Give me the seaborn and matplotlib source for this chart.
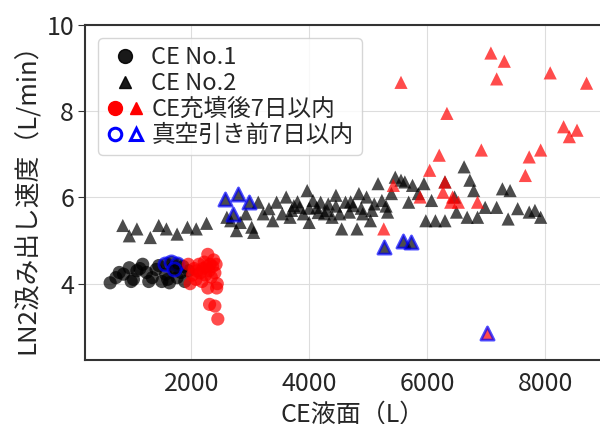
import numpy as np
import pandas as pd
import matplotlib.pyplot as plt
from matplotlib.lines import Line2D
from matplotlib.legend_handler import HandlerTuple
import seaborn as sns

sns.set_style('whitegrid')
plt.rcParams['font.family'] = ['Noto Sans CJK JP', 'DejaVu Sans']

# CE No.1 (circles)
ce1_x = [626, 723, 852, 950, 982, 1079, 1177, 1241, 1339, 1404, 1501, 1566,
         1630, 1695, 1760, 1825, 1890, 1955, 780, 1020, 1130, 1280, 1450, 1600, 1860]
ce1_y = [4.02, 4.14, 4.22, 4.37, 4.05, 4.30, 4.45, 4.26, 4.14, 4.33, 4.05, 4.22,
         4.02, 4.37, 4.14, 4.26, 4.05, 4.30, 4.26, 4.10, 4.35, 4.05, 4.42, 4.10, 4.40]

# CE No.1 filled within 7 days (red circles)
ce1_fill_x = [1950, 1980, 2020, 2050, 2080, 2100, 2130, 2150, 2180, 2200, 2220, 2240,
              2260, 2280, 2300, 2320, 2340, 2360, 2380, 2400, 2420, 2440, 2310, 2400,
              2450, 2280, 2430]
ce1_fill_y = [4.45, 4.00, 4.20, 4.35, 4.10, 4.30, 4.45, 4.25, 4.05, 4.35, 4.50, 4.20,
              4.40, 4.68, 4.30, 4.45, 4.15, 4.40, 4.55, 4.25, 4.45, 4.00, 3.52, 3.48,
              3.18, 3.90, 3.90]

# CE No.1 within 7 days before evacuation (blue edge)
ce1_vac_x = [1550, 1650, 1750, 1700]
ce1_vac_y = [4.45, 4.50, 4.45, 4.35]

# CE No.2 (triangles)
ce2_x = [840, 950, 1079, 1306, 1449, 1579, 1760, 1935, 2084, 2259,
         2603, 2668, 2765, 2830, 2927, 3024, 3057, 3135, 3219, 3316,
         3381, 3446, 3543, 3608, 3673, 3738, 3835, 3900, 3964, 3997,
         4062, 4127, 4192, 4256, 4321, 4386, 4451, 4516, 4548, 4613,
         4678, 4743, 4808, 4840, 4905, 4970, 5035, 5100, 5164, 5229,
         5326, 5391, 5456, 5553, 5618, 5683, 5748, 5845, 5942, 5974,
         6071, 6136, 6298, 6298, 6460, 6493, 6622, 6674, 6720, 6785,
         6850, 6979, 7174, 7271, 7401, 7368, 7530, 7725, 7822, 7919,
         3700, 3800, 4000, 4150, 4300, 4450, 4700, 4880, 5060, 5300]
ce2_y = [5.35, 5.11, 5.27, 5.07, 5.35, 5.27, 5.15, 5.31, 5.27, 5.40,
         5.54, 5.46, 5.23, 5.42, 5.62, 5.31, 5.19, 5.89, 5.62, 5.74,
         5.46, 5.89, 5.62, 6.01, 5.54, 5.81, 5.77, 5.62, 6.16, 5.42,
         5.93, 5.77, 5.89, 5.62, 5.85, 5.54, 6.05, 5.62, 5.27, 5.89,
         5.66, 5.81, 5.27, 6.09, 5.62, 6.01, 5.46, 5.85, 6.32, 5.93,
         5.66, 6.09, 6.47, 6.40, 6.36, 5.89, 6.28, 6.09, 6.32, 5.46,
         5.93, 5.46, 6.36, 5.46, 6.01, 5.66, 6.71, 5.54, 6.40, 6.16,
         5.54, 5.77, 5.77, 6.20, 6.16, 5.50, 5.74, 5.66, 5.70, 5.54,
         5.70, 5.90, 5.75, 5.65, 5.70, 5.80, 5.90, 5.75, 5.70, 5.80]

# CE No.2 filled within 7 days (red triangles)
ce2_fill_x = [5553, 7076, 7303, 7174, 8081, 8697, 6331, 6914, 8308, 8405,
              8535, 7725, 7919, 6201, 7660, 6039, 5423, 6298, 6266, 5877,
              6395, 6525, 6850, 5261, 6428]
ce2_fill_y = [8.67, 9.35, 9.16, 8.75, 8.89, 8.65, 7.95, 7.10, 7.64, 7.41,
              7.56, 6.94, 7.10, 6.98, 6.51, 6.63, 6.28, 6.36, 6.12, 6.01,
              5.89, 5.89, 5.89, 5.27, 6.01]

# CE No.2 within 7 days before evacuation (blue edge)
ce2_vac_x = [2570, 2700, 2797, 2979, 5261, 5585, 5728]
ce2_vac_y = [5.97, 5.62, 6.09, 5.89, 4.84, 5.00, 4.96]
ce2_vac_fill_x = [7012]
ce2_vac_fill_y = [2.86]

fig = plt.figure(figsize=(6, 4.24), dpi=100)
ax = fig.add_axes([0.142, 0.151, 0.892, 0.790])

kw = dict(ax=ax, s=90, alpha=0.7, legend=False)
sns.scatterplot(x=ce1_x, y=ce1_y, marker='o', color='black', edgecolor='none', **kw)
sns.scatterplot(x=ce2_x, y=ce2_y, marker='^', color='black', edgecolor='none', **kw)
sns.scatterplot(x=ce1_vac_x, y=ce1_vac_y, marker='o', color='black', edgecolor='blue', linewidth=2, **kw)
sns.scatterplot(x=ce2_vac_x, y=ce2_vac_y, marker='^', color='black', edgecolor='blue', linewidth=2, **kw)
sns.scatterplot(x=ce1_fill_x, y=ce1_fill_y, marker='o', color='red', edgecolor='none', **kw)
sns.scatterplot(x=ce2_fill_x, y=ce2_fill_y, marker='^', color='red', edgecolor='none', **kw)
sns.scatterplot(x=ce2_vac_fill_x, y=ce2_vac_fill_y, marker='^', color='red', edgecolor='blue', linewidth=2, **kw)

ax.set_xlim(203, 9270)
ax.set_ylim(2.23, 10)
ax.set_xticks([2000, 4000, 6000, 8000])
ax.set_yticks([4, 6, 8, 10])
ax.tick_params(labelsize=18, left=True, length=5, color='#333333', pad=3)
for sp in ax.spines.values():
    sp.set_color('#333333')
    sp.set_linewidth(1.5)
ax.grid(color='#dddddd')
ax.set_xlabel('CE液面（L）', fontsize=18, labelpad=3)
ax.set_ylabel('LN2汲み出し速度（L/min）', fontsize=18.5, labelpad=4)

h1 = Line2D([], [], marker='o', ls='', color='black', markersize=10, alpha=0.9)
h2 = Line2D([], [], marker='^', ls='', color='black', markersize=8, alpha=0.9)
h3a = Line2D([], [], marker='o', ls='', color='red', markersize=10)
h3b = Line2D([], [], marker='^', ls='', color='red', markersize=9)
h4a = Line2D([], [], marker='o', ls='', markerfacecolor='none', markeredgecolor='blue', markeredgewidth=2.2, markersize=9)
h4b = Line2D([], [], marker='^', ls='', markerfacecolor='none', markeredgecolor='blue', markeredgewidth=2.2, markersize=9)
ax.legend([h1, h2, (h3a, h3b), (h4a, h4b)],
          ['CE No.1', 'CE No.2', 'CE充填後7日以内', '真空引き前7日以内'],
          handler_map={tuple: HandlerTuple(ndivide=None, pad=0.2)},
          loc='upper left', fontsize=17, frameon=True, handlelength=1.6,
          handletextpad=0.3, borderpad=0.35, labelspacing=0.12,
          borderaxespad=0, bbox_to_anchor=(0.024, 0.961))

fig.savefig('out.png', dpi=100)
